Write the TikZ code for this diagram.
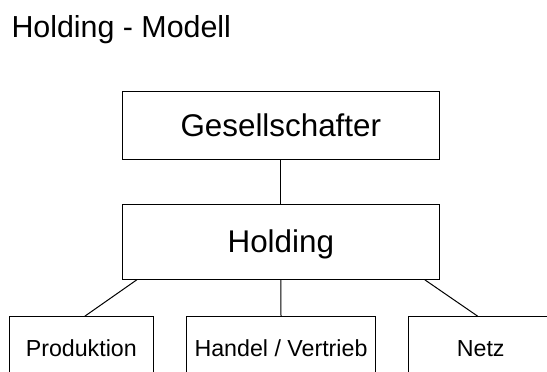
\documentclass[tikz,border=0pt]{standalone}
\usepackage{fontspec}
\setmainfont{Liberation Sans}
\begin{document}
\begin{tikzpicture}[x=1bp, y=-1bp, line width=1bp,
        gross/.style={font=\fontsize{31.5}{36}\selectfont, text height=22.6bp},
        klein/.style={font=\fontsize{23.3}{28}\selectfont, text height=16.7bp},
        kasten/.style={draw, inner sep=0pt, text depth=0pt}]
        \useasboundingbox (0, 0) rectangle (547, 371);
        \clip (0, 0) rectangle (547, 371);
        \node[font=\fontsize{30.5}{36}\selectfont, anchor=base west, inner sep=0pt] (titel) at (11, 37.3) {Holding - Modell};
        \node[kasten, gross, minimum width=317bp, minimum height=67.3bp] (ges) at (280.8, 125.35) {Gesellschafter};
        \node[kasten, gross, minimum width=317bp, minimum height=75.3bp] (hold) at (280.8, 241.65) {Holding};
        \node[kasten, klein, minimum width=144bp, minimum height=62bp] (prod) at (81.3, 347.7) {Produktion};
        \node[kasten, klein, minimum width=188.6bp, minimum height=62bp] (handel) at (281, 347.7) {Handel / Vertrieb};
        \node[kasten, klein, minimum width=144bp, minimum height=62bp] (netz) at (480.7, 347.7) {Netz};
        \draw (ges.south) -- (hold.north);
        \draw (hold.south) -- (handel.north);
        \draw ([xshift=15bp]hold.south west) -- ([xshift=3.5bp]prod.north);
        \draw ([xshift=-15bp]hold.south east) -- ([xshift=-3bp]netz.north);
    \end{tikzpicture}
\end{document}
